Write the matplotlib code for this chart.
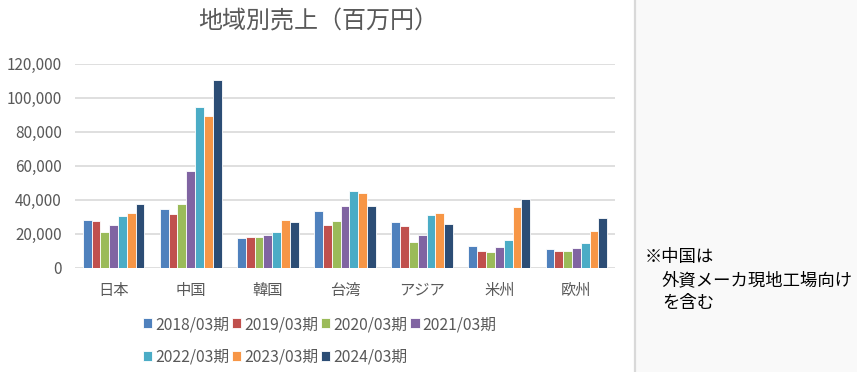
import matplotlib
matplotlib.use("Agg")
import matplotlib.pyplot as plt
from matplotlib.patches import Rectangle
from matplotlib.lines import Line2D
import numpy as np

plt.rcParams['font.family'] = ['Noto Sans CJK JP', 'DejaVu Sans']

categories = ["日本", "中国", "韓国", "台湾", "アジア", "米州", "欧州"]
series_names = ["2018/03期", "2019/03期", "2020/03期", "2021/03期",
                "2022/03期", "2023/03期", "2024/03期"]
s2018 = [28400, 34900, 17800, 33300, 26900, 12700, 11400]
s2019 = [27400, 31600, 18400, 25100, 24500, 9800, 9800]
s2020 = [21400, 37400, 18400, 27400, 15500, 9400, 9800]
s2021 = [25100, 56900, 19400, 36500, 19400, 12400, 12000]
s2022 = [30400, 94500, 21400, 45100, 31000, 16300, 14500]
s2023 = [32500, 89200, 28000, 43900, 32500, 36100, 21600]
s2024 = [37400, 110400, 26900, 36500, 25700, 40400, 29400]
series = [s2018, s2019, s2020, s2021, s2022, s2023, s2024]
colors = ["#4F81BD", "#C0504D", "#9BBB59", "#8064A2", "#4BACC6", "#F79646", "#2C4D75"]

W, H = 857, 372
fig = plt.figure(figsize=(W / 100, H / 100), dpi=100)
fig.patch.set_facecolor("white")

# right note panel
fig.patches.append(Rectangle((636 / W, 0), 1 - 636 / W, 1, transform=fig.transFigure,
                             facecolor="#f9f9f9", edgecolor="none", zorder=0))
fig.lines.append(Line2D([635 / W, 635 / W], [0, 1], transform=fig.transFigure,
                        color="#d9d9d9", linewidth=1.6, zorder=1))

ax = fig.add_axes([75 / W, 1 - 268 / H, (615 - 75) / W, (268 - 63.7) / H])
ax.set_facecolor("none")
n = len(series)
x = np.arange(len(categories))
bw = 0.8 / n
for i, (vals, c, name) in enumerate(zip(series, colors, series_names)):
    ax.bar(x - 0.4 + bw * (i + 0.5), vals, width=bw, color=c, edgecolor="white",
           linewidth=0.6, label=name, zorder=3)

ax.set_xlim(-0.5, len(categories) - 0.5)
ax.set_ylim(0, 120000)
ax.set_yticks(np.arange(0, 120001, 20000))
ax.set_yticklabels([f"{v:,}" for v in range(0, 120001, 20000)])
ax.set_xticks(x)
ax.set_xticklabels(categories)
ax.yaxis.grid(True, color="#d9d9d9", linewidth=1.2)
ax.set_axisbelow(True)
for s in ax.spines.values():
    s.set_visible(False)
ax.tick_params(length=0, colors="#595959", labelsize=11)
ax.tick_params(axis="y", pad=9.4)
ax.tick_params(axis="x", pad=10)

fig.text(318 / W, 1 - 22 / H, "地域別売上（百万円）", ha="center", va="center",
         fontsize=17.3, color="#595959")

handles, labels = ax.get_legend_handles_labels()
order = [0, 4, 1, 5, 2, 6, 3]
leg = fig.legend([handles[i] for i in order], [labels[i] for i in order], ncol=4,
                 loc="upper left",
                 bbox_to_anchor=(143 / W, 1 - 316 / H), frameon=False,
                 fontsize=11.3, handlelength=0.6, handleheight=0.6,
                 handletextpad=0.2, columnspacing=0.15, labelspacing=1.0,
                 borderpad=0, borderaxespad=0)
for t in leg.get_texts():
    t.set_color("#595959")

fs = 12.5
fig.text(645 / W, 1 - 257 / H, "※中国は", ha="left", va="center", fontsize=fs, color="black")
fig.text(662 / W, 1 - 280 / H, "外資メーカ現地工場向け", ha="left", va="center", fontsize=fs, color="black")
fig.text(662 / W, 1 - 303 / H, "を含む", ha="left", va="center", fontsize=fs, color="black")

fig.savefig("out.png", dpi=100)
